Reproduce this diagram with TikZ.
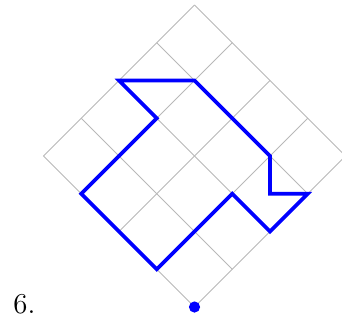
\documentclass[tikz,border=0pt]{standalone}
\begin{document}
\begin{tikzpicture}[x=0.5pt,y=-0.5pt,
  gridline/.style={draw=black!28,line width=0.5pt},
  pathline/.style={draw=blue,line width=1.8pt,line join=miter},
  startdot/.style={circle,fill=blue,inner sep=0pt,minimum size=5.6pt},
  label/.style={inner sep=0pt,anchor=base west,font=\fontsize{14.4}{17}\selectfont}]
\useasboundingbox (0,0) rectangle (342,322);
\begin{scope}[shift={(97.25pt,-153.5pt)},x={(18.875pt,18.875pt)},y={(-18.875pt,18.875pt)}]
  \foreach \k in {0,...,4}{
    \draw[gridline] (\k,0) -- (\k,4);
    \draw[gridline] (0,\k) -- (4,\k);
  }
  \coordinate (p1) at (2,4);
  \coordinate (p2) at (3,3);
  \coordinate (p3) at (3,1);
  \coordinate (p4) at (2.5,0.5);
  \coordinate (p5) at (3,0);
  \coordinate (p6) at (2,0);
  \coordinate (p7) at (2,1);
  \coordinate (p8) at (0,1);
  \coordinate (p9) at (0,3);
  \coordinate (p10) at (2,3);
  \draw[pathline] (p1) -- (p2) -- (p3) -- (p4) -- (p5) -- (p6) -- (p7) -- (p8) -- (p9) -- (p10) -- cycle;
  \node[startdot] (start) at (0,0) {};
\end{scope}
\node[label] (num) at (13,313) {6.};
\end{tikzpicture}
\end{document}
